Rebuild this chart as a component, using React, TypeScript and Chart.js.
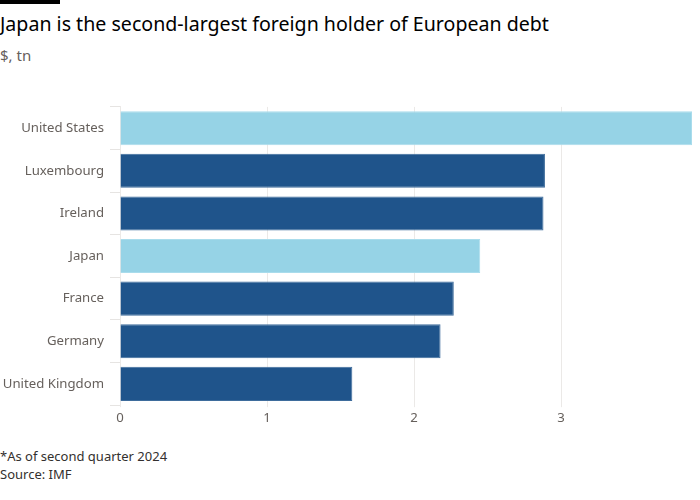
import React, { useEffect, useRef } from "react";
import { Chart, registerables } from "chart.js";

Chart.register(...registerables);

const categories = ["United States", "Luxembourg", "Ireland", "Japan", "France", "Germany", "United Kingdom"];
const values = [3.89, 2.89, 2.88, 2.45, 2.27, 2.18, 1.58];
const highlighted = ["United States", "Japan"];
const xTicks = [0, 1, 2, 3];

const FONT = "'Noto Sans', sans-serif";

export default function App() {
  const ref = useRef<HTMLCanvasElement | null>(null);

  useEffect(() => {
    document.body.style.margin = "0";
    const ctx = ref.current!;
    const chart = new Chart(ctx, {
      type: "bar",
      data: {
        labels: categories,
        datasets: [
          {
            data: values,
            backgroundColor: categories.map((c) => (highlighted.includes(c) ? "#96d3e6" : "#1f548b")),
            borderColor: categories.map((c) => (highlighted.includes(c) ? "#a9dcec" : "#3e6c9c")),
            borderWidth: 1,
            borderSkipped: "start",
            barPercentage: 0.8,
            categoryPercentage: 1,
          },
        ],
      },
      options: {
        indexAxis: "y",
        animation: false,
        responsive: false,
        maintainAspectRatio: false,
        layout: { padding: { left: 0, right: 8, top: 10, bottom: 0 } },
        plugins: { legend: { display: false }, tooltip: { enabled: false } },
        scales: {
          x: {
            min: 0,
            max: 3.89,
            afterBuildTicks: (axis: any) => {
              axis.ticks = xTicks.map((v) => ({ value: v }));
            },
            grid: { color: "#ebe9e7", drawTicks: true, tickLength: 2 },
            border: { display: false },
            ticks: { color: "#66605c", font: { family: FONT, size: 13.2 }, padding: 3 },
          },
          y: {
            afterFit: (axis: any) => {
              axis.width = 120;
            },
            grid: { drawOnChartArea: false, drawTicks: true, tickLength: 10, color: "#e6e4e2" },
            border: { display: true, color: "#ebe9e7" },
            ticks: { color: "#66605c", font: { family: FONT, size: 13.2 }, padding: 6 },
          },
        },
      },
    });
    return () => chart.destroy();
  }, []);

  return (
    <div style={{ position: "relative", width: 700, height: 500, background: "#fff", fontFamily: FONT, overflow: "hidden" }}>
      <div style={{ position: "absolute", left: 0, top: 0, width: 60, height: 4, background: "#000" }} />
      <div style={{ position: "absolute", left: 0, top: 10, fontSize: 19.6, color: "#000", whiteSpace: "nowrap" }}>
        Japan is the second-largest foreign holder of European debt
      </div>
      <div style={{ position: "absolute", left: 0, top: 45, fontSize: 15, color: "#66605c" }}>$, tn</div>
      <canvas ref={ref} width={700} height={336} style={{ position: "absolute", left: 0, top: 93 }} />
      <div style={{ position: "absolute", left: 0, top: 447, fontSize: 13, color: "#33302e", lineHeight: "18px" }}>
        <div>*As of second quarter 2024</div>
        <div>Source: IMF</div>
      </div>
    </div>
  );
}
